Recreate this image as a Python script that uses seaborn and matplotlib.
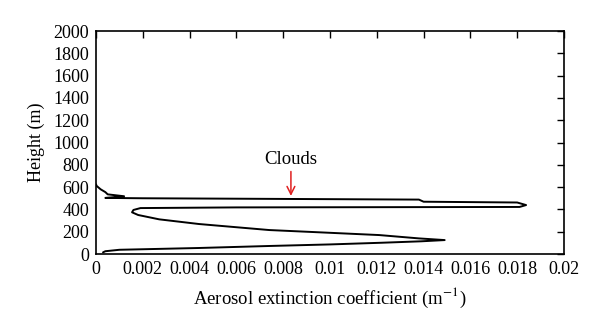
import matplotlib
matplotlib.use("Agg")
import matplotlib.pyplot as plt
import seaborn as sns
import pandas as pd
from matplotlib.ticker import FixedLocator, FixedFormatter

sns.set_theme(style="white")
plt.rcParams["font.family"] = ["Liberation Serif", "DejaVu Serif"]
plt.rcParams["mathtext.fontset"] = "stix"

# Retrieved aerosol extinction profile (value along height)
extinction = [0.0003, 0.0004, 0.0010, 0.0044, 0.0074, 0.0100, 0.0122, 0.0139,
              0.0149, 0.0138, 0.0121, 0.0095, 0.0074, 0.0044, 0.0027, 0.0018,
              0.00154, 0.0016, 0.0019, 0.0060, 0.0181, 0.01838, 0.0180, 0.0140,
              0.0138, 0.0080, 0.0020, 0.0004, 0.0012, 0.0005, 0.0004, 0.0002,
              0.00003, 0.0]
height = [15, 25, 38, 54, 72, 86, 101, 114,
          125, 140, 170, 195, 215, 269, 311, 350,
          374, 395, 412, 418, 422, 439, 462, 469,
          488, 494, 500, 503, 518, 535, 555, 580,
          610, 625]

x_ticks = [0, 0.002, 0.004, 0.006, 0.008, 0.01, 0.012, 0.014, 0.016, 0.018, 0.02]
x_labels = ["0", "0.002", "0.004", "0.006", "0.008", "0.01", "0.012", "0.014",
            "0.016", "0.018", "0.02"]
y_ticks = list(range(0, 2001, 200))
y_labels = [str(v) for v in y_ticks]

cloud_label = "Clouds"
cloud_x = 0.00833
cloud_text_h = 765
cloud_tip_h = 496

df = pd.DataFrame({"ext": extinction, "h": height})

fig = plt.figure(figsize=(6.0, 3.33), dpi=100)
ax = fig.add_axes([0.16, 0.2372, 0.78, 0.6697])

sns.lineplot(data=df, x="ext", y="h", sort=False, estimator=None,
             color="black", linewidth=1.4, ax=ax)

ax.set_xlim(0, 0.02)
ax.set_ylim(0, 2000)
ax.xaxis.set_major_locator(FixedLocator(x_ticks))
ax.xaxis.set_major_formatter(FixedFormatter(x_labels))
ax.yaxis.set_major_locator(FixedLocator(y_ticks))
ax.yaxis.set_major_formatter(FixedFormatter(y_labels))

ax.tick_params(direction="in", length=5, width=1, colors="black",
               top=True, right=True, labelsize=13, pad=5)
for s in ax.spines.values():
    s.set_color("black")
    s.set_linewidth(1.2)

ax.set_xlabel("Aerosol extinction coefficient (m$^{-1}$)", fontsize=13.5,
              color="black", labelpad=6)
ax.set_ylabel("Height (m)", fontsize=13, color="black", labelpad=6)

ax.annotate("", xy=(cloud_x, cloud_tip_h), xytext=(cloud_x, cloud_text_h),
            arrowprops=dict(arrowstyle="->", color="#e02020", lw=1.1,
                            mutation_scale=14))
ax.text(cloud_x, cloud_text_h + 10, cloud_label, ha="center", va="bottom",
        fontsize=13.5, color="black")

fig.savefig("out.png", dpi=100)
